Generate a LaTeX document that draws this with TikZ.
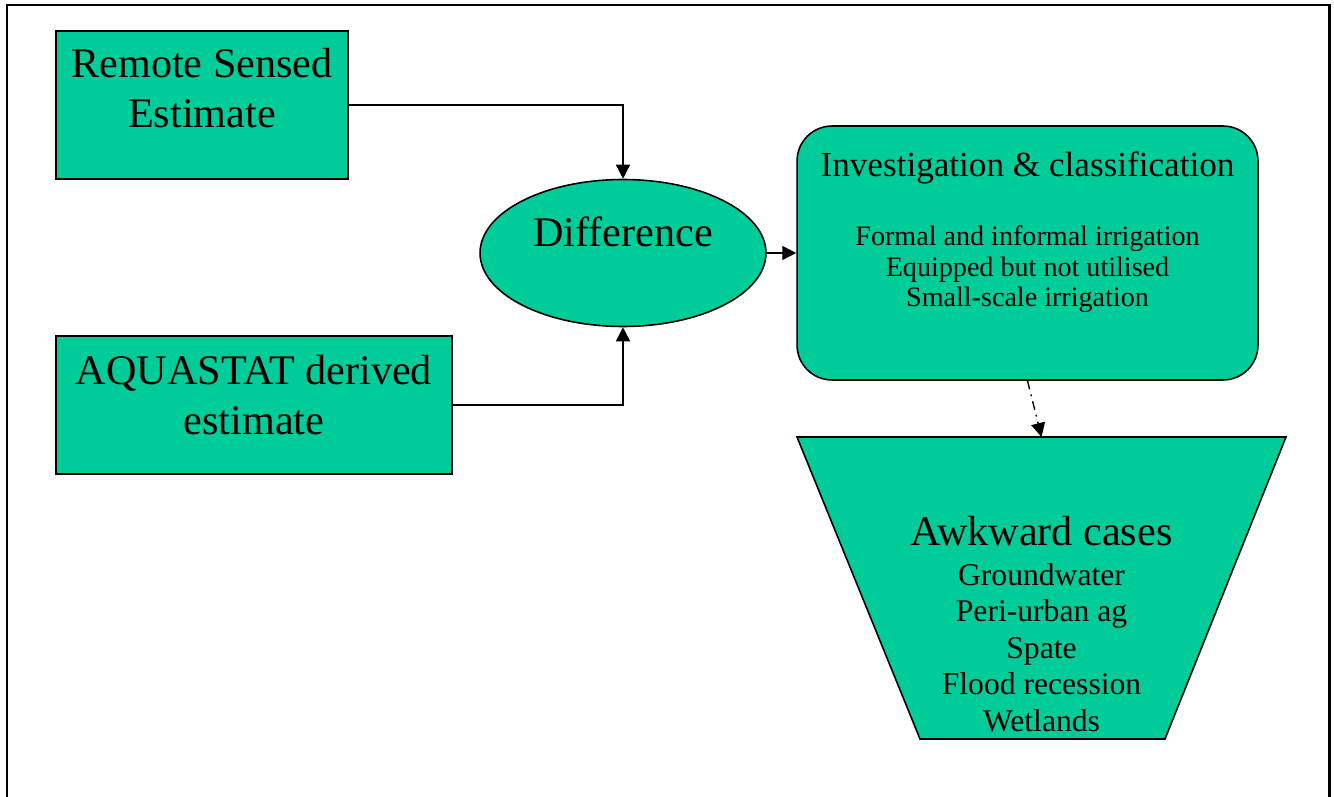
\documentclass[tikz,border=0pt]{standalone}
\usepackage{fontspec}
\setmainfont{Liberation Serif}
\usetikzlibrary{arrows.meta}
\usetikzlibrary{positioning}
\usetikzlibrary{shapes.geometric}

\definecolor{boxgreen}{RGB}{0,204,153}

\tikzset{
  block/.style={draw, fill=boxgreen, line width=0.9pt},
  flow/.style={line width=0.8pt, -{Triangle[length=0.28cm,width=0.28cm]}},
  big/.style={inner sep=0, align=center, font=\fontsize{24}{28.5}\selectfont},
  mid/.style={inner sep=0, align=center, font=\fontsize{18}{20.8}\selectfont},
  small/.style={inner sep=0, align=center, font=\fontsize{16}{17.6}\selectfont}
}

\begin{document}
\begin{tikzpicture}[x=0.02cm,y=-0.02cm]
  \useasboundingbox (0,0) rectangle (1334,797);
  % frame, bottom edge runs off the page
  \draw[line width=1.7pt] (7,820) -- (7,5) -- (1329,5) -- (1329,820);

  % inputs
  \node[block, minimum width=5.84cm, minimum height=2.96cm] (rs) at (202,105) {};
  \node[big, below=0.36cm of rs.north] (rslbl) {Remote Sensed\\Estimate};
  \node[block, minimum width=7.92cm, minimum height=2.76cm] (aq) at (254,405) {};
  \node[big, below=0.4cm of aq.north] (aqlbl) {AQUASTAT derived\\estimate};

  % difference
  \node[block, ellipse, minimum width=5.72cm, minimum height=2.94cm] (diff) at (623,253) {};
  \node[big, anchor=base] (difflbl) at (623,246) {Difference};

  % investigation
  \node[block, rounded corners=0.7cm, minimum width=9.22cm, minimum height=5.08cm] (inv) at (1027.5,253) {};
  \node[inner sep=0, anchor=base, font=\fontsize{20}{24}\selectfont] (invlbl) at (1027.5,176)
    {Investigation \& classification};
  \node[small, anchor=north] (invlist) at (1027.5,225)
    {Formal and informal irrigation\\Equipped but not utilised\\Small-scale irrigation};

  % awkward cases
  \draw[block] (797,437) -- (1286,437) -- (1165,739) -- (920,739) -- cycle;
  \coordinate (awk) at (1041.5,437);
  \node[big, anchor=base] (awklbl) at (1041.5,545) {Awkward cases};
  \node[mid, anchor=north] (awklist) at (1041.5,563)
    {Groundwater\\Peri-urban ag\\Spate\\Flood recession\\Wetlands};

  % connectors
  \draw[flow] (rs.east) -| (diff.north);
  \draw[flow] (aq.east) -| (diff.south);
  \draw[flow] (diff.east) -- (inv.west);
  \draw[flow, dash pattern=on 5pt off 3pt on 1pt off 3pt] (inv.south) -- (awk);
\end{tikzpicture}
\end{document}
